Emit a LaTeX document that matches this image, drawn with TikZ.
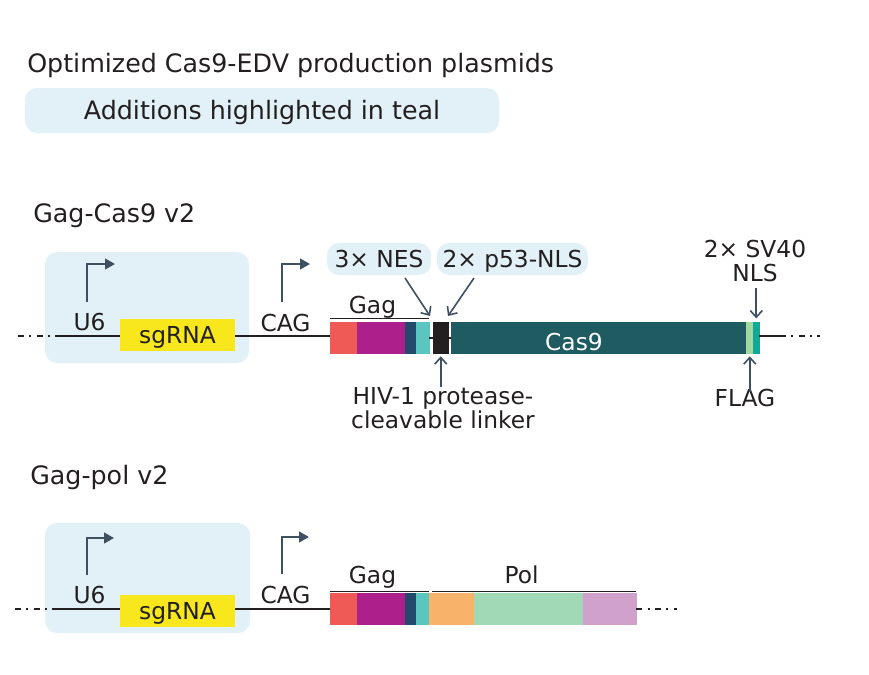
\documentclass[tikz,border=0pt]{standalone}
\usepackage{fontspec}
\setmainfont{DejaVu Sans}
\usetikzlibrary{arrows.meta}

\definecolor{ink}{HTML}{231F20}
\definecolor{arr}{HTML}{3E5062}
\definecolor{hl}{HTML}{E2F1F7}
\definecolor{sgyel}{HTML}{F7E71C}
\definecolor{gagred}{HTML}{EF5A57}
\definecolor{gagmag}{HTML}{AD1F8B}
\definecolor{gagnavy}{HTML}{234A6A}
\definecolor{nesteal}{HTML}{5BC5C0}
\definecolor{linker}{HTML}{231F20}
\definecolor{casteal}{HTML}{1E5C62}
\definecolor{flaggrn}{HTML}{A3D7A0}
\definecolor{nlsteal}{HTML}{0FA998}
\definecolor{polorng}{HTML}{F8B36A}
\definecolor{polgrn}{HTML}{A1D8B6}
\definecolor{polpink}{HTML}{D0A2CB}

\tikzset{
  lbl/.style={font=\fontsize{17.5}{18.5}\selectfont, text=ink, inner sep=0pt},
  head/.style={lbl, font=\fontsize{19}{20}\selectfont},
  bubble/.style={lbl, fill=hl, rounded corners=9pt, text height=12.8pt, text depth=0pt},
  sgbox/.style={lbl, fill=sgyel, minimum width=86.25pt, minimum height=24.5pt, text height=12.8pt, text depth=0pt},
  seg/.style={rectangle, inner sep=0pt, anchor=west, minimum height=23pt, fill=#1, draw=#1, line width=0.4pt},
  backbone/.style={line width=1.2pt, draw=ink},
  dashdot/.style={backbone, dash pattern=on 4.5pt off 4pt on 1.5pt off 4pt},
  promoter/.style={line width=1.7pt, draw=arr, -{Triangle[length=7.5pt,width=8pt]}},
  pointer/.style={line width=1.2pt, draw=arr, -{Straight Barb[length=5pt,width=9pt]}},
  overline/.style={line width=1.1pt, draw=ink},
}

\begin{document}
\begin{tikzpicture}[x=0.75pt,y=-0.75pt]
  \useasboundingbox (0,0) rectangle (869,675);

  % header
  \node[head, anchor=base west] (title) at (27,72) {Optimized Cas9-EDV production plasmids};
  \node[bubble, head, text height=13.8pt, minimum width=355.5pt, minimum height=33.75pt] (key) at (262,110.5) {Additions highlighted in teal};

  % Gag-Cas9 v2
  \node[head, anchor=base west] (row1) at (33,222) {Gag-Cas9 v2};
  \fill[hl, rounded corners=9pt] (45,252) rectangle (249,363);

  \node[sgbox] (sg1) at (177.5,335) {sgRNA};
  \node[seg=gagred, minimum width=20pt] (red1) at (330,338) {};
  \node[seg=gagmag, minimum width=35.6pt] (mag1) at (red1.east) {};
  \node[seg=gagnavy, minimum width=7.85pt] (navy1) at (mag1.east) {};
  \node[seg=nesteal, minimum width=9.35pt] (teal1) at (navy1.east) {};
  \node[seg=linker, minimum width=11.6pt] (lnk1) at ([xshift=2.65pt]teal1.east) {};
  \node[seg=casteal, minimum width=220.85pt] (cas1) at ([xshift=1.9pt]lnk1.east) {};
  \node[seg=flaggrn, minimum width=4.85pt] (flag1) at (cas1.east) {};
  \node[seg=nlsteal, minimum width=4.1pt] (nls1) at (flag1.east) {};

  \coordinate (l1a) at (18,336);
  \coordinate (l1b) at (55,336);
  \coordinate (r1a) at (780,336);
  \coordinate (r1b) at (820,336);
  \draw[dashdot] (l1a) -- (l1b);
  \draw[backbone] (l1b) -- (l1b -| sg1.west);
  \draw[backbone] (l1b -| sg1.east) -- (l1b -| red1.west);
  \draw[backbone] (teal1.east) -- (lnk1.west);
  \draw[backbone] (lnk1.east) -- (cas1.west);
  \draw[backbone] (r1a -| nls1.east) -- (r1a);
  \draw[dashdot] (r1a) -- (r1b);

  \node[lbl, anchor=base] (u6a) at (89.5,330) {U6};
  \node[lbl, anchor=base] (caga) at (285.5,331) {CAG};
  \draw[promoter] (87,302) |- (115,264);
  \draw[promoter] (282,302) |- (310,264);

  \draw[overline] ([yshift=3pt]red1.north west) -- ([yshift=3pt]teal1.north east);
  \node[lbl, anchor=base] (gaga) at (372.5,313) {Gag};
  \node[lbl, anchor=base, text=white] (castxt) at (574,350) {Cas9};

  \node[bubble, minimum width=78pt, minimum height=24pt] (nes) at (379,259) {3× NES};
  \node[bubble, minimum width=113.25pt, minimum height=24pt] (p53) at (512.5,259) {2× p53-NLS};
  \node[lbl, align=center] (hiv) at (443,408) {HIV-1 protease-\\cleavable linker};
  \node[lbl, anchor=base] (flag) at (745,406) {FLAG};
  \node[lbl, align=center] (sv40) at (755,261) {2× SV40\\NLS};

  \coordinate (nesfoot) at (405,278);
  \coordinate (nestip) at (430,316);
  \coordinate (p53foot) at (474,278);
  \coordinate (p53tip) at (448,316);
  \draw[pointer] (nesfoot) -- (nestip);
  \draw[pointer] (p53foot) -- (p53tip);
  \draw[pointer] (hiv.north -| lnk1.south) -- ([yshift=-2pt]lnk1.south);
  \draw[pointer] ([yshift=-3pt]flag.north -| flag1.south) -- ([yshift=-2pt]flag1.south);
  \draw[pointer] ([yshift=-4pt]sv40.south -| nls1.north) -- ([yshift=3pt]nls1.north);

  % Gag-pol v2
  \node[head, anchor=base west] (row2) at (30,484) {Gag-pol v2};
  \fill[hl, rounded corners=9pt] (45,523) rectangle (250,633);

  \node[sgbox] (sg2) at (177.5,611) {sgRNA};
  \node[seg=gagred, minimum width=20pt] (red2) at (330,609) {};
  \node[seg=gagmag, minimum width=35.6pt] (mag2) at (red2.east) {};
  \node[seg=gagnavy, minimum width=7.85pt] (navy2) at (mag2.east) {};
  \node[seg=nesteal, minimum width=9.35pt] (teal2) at (navy2.east) {};
  \node[seg=polorng, minimum width=33.35pt] (orng2) at (teal2.east) {};
  \node[seg=polgrn, minimum width=81.35pt] (grn2) at (orng2.east) {};
  \node[seg=polpink, minimum width=39.35pt] (pink2) at (grn2.east) {};

  \coordinate (l2a) at (15,609);
  \coordinate (l2b) at (53,609);
  \coordinate (r2b) at (677,609);
  \draw[dashdot] (l2a) -- (l2b);
  \draw[backbone] (l2b) -- (l2b -| sg2.west);
  \draw[backbone] (l2b -| sg2.east) -- (red2.west);
  \draw[dashdot] (pink2.east) -- (r2b);

  \node[lbl, anchor=base] (u6b) at (89.5,603) {U6};
  \node[lbl, anchor=base] (cagb) at (285.5,603) {CAG};
  \draw[promoter] (87,575) |- (114,538);
  \draw[promoter] (282,574) |- (309,537);

  \draw[overline] ([yshift=1.5pt]red2.north west) -- ([yshift=1.5pt]teal2.north east);
  \draw[overline] ([yshift=1.5pt,xshift=2pt]orng2.north west) -- ([yshift=1.5pt]pink2.north east);
  \node[lbl, anchor=base] (gagb) at (372.5,583) {Gag};
  \node[lbl, anchor=base] (pol) at (521.5,583) {Pol};
\end{tikzpicture}
\end{document}
